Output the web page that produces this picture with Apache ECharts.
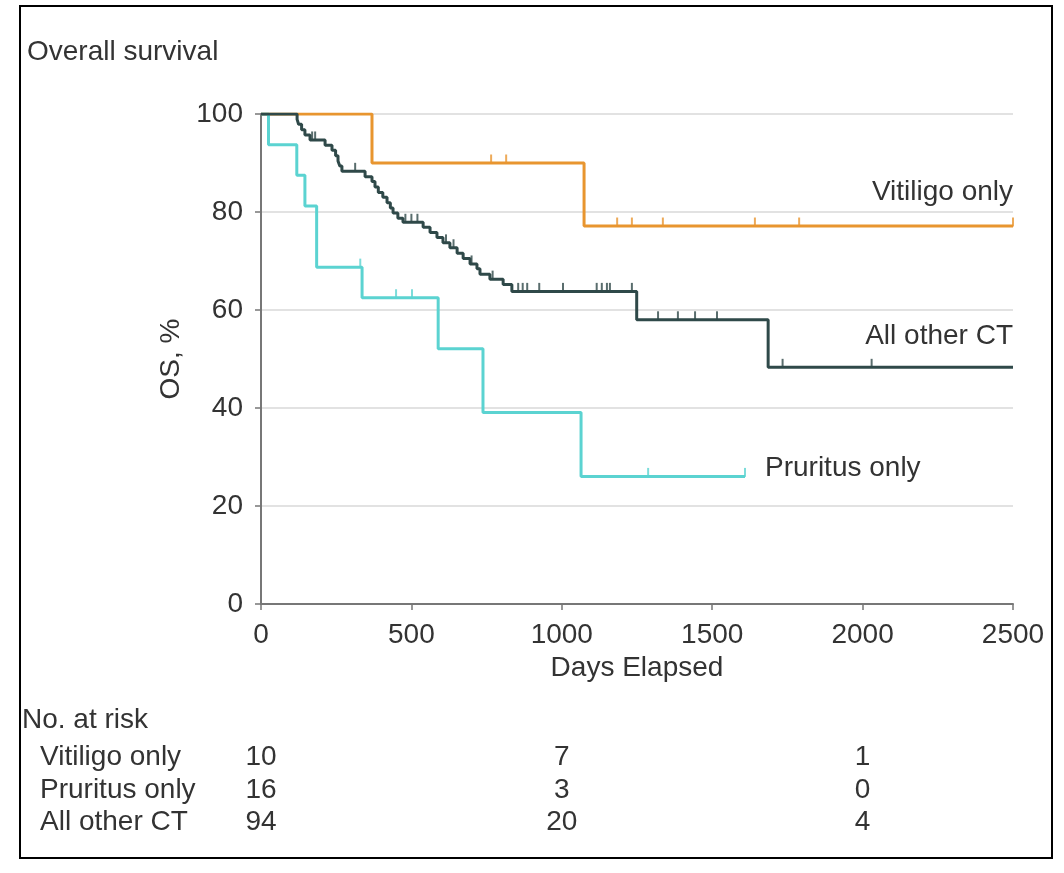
<!DOCTYPE html>
<html>
<head>
<meta charset="utf-8">
<script src="https://cdn.jsdelivr.net/npm/echarts@6/dist/echarts.min.js"></script>
<style>
html,body{margin:0;padding:0;background:#fff;}
#chart{width:1064px;height:873px;}
</style>
</head>
<body>
<div id="chart"></div>
<script>
// ---- Data ----
const xTicks = [0, 500, 1000, 1500, 2000, 2500];
const yTicks = [0, 20, 40, 60, 80, 100];

const vitTime = [0, 369, 1074, 2500];
const vitSurv = [100, 90, 77.14, 77.14];
const vitCensorTime = [765, 815, 1184, 1233, 1336, 1642, 1789, 2500];
const vitCensorSurv = [90, 90, 77.14, 77.14, 77.14, 77.14, 77.14, 77.14];

const pruTime = [0, 25, 119, 146, 185, 336, 589, 738, 1064, 1609];
const pruSurv = [100, 93.75, 87.5, 81.25, 68.75, 62.5, 52.08, 39.06, 26.04, 26.04];
const pruCensorTime = [330, 449, 502, 1287, 1609];
const pruCensorSurv = [68.75, 62.5, 62.5, 26.04, 26.04];

const othTime = [0, 120, 125, 135, 146, 163, 213, 236, 248, 256, 262, 269, 346, 369, 379, 390, 405, 419, 430, 439, 455, 472, 539, 562, 585, 605, 628, 652, 672, 695, 718, 728, 761, 805, 834, 1249, 1686, 2500];
const othSurv = [100, 98.9, 97.9, 96.8, 95.7, 94.7, 93.6, 92.6, 91.5, 90.4, 89.4, 88.3, 87.2, 86.2, 85.1, 84.0, 83.0, 81.9, 80.8, 79.8, 78.7, 77.9, 76.9, 75.8, 74.8, 73.7, 72.7, 71.6, 70.5, 69.4, 68.4, 67.3, 66.3, 65.2, 63.8, 58.0, 48.3, 48.3];
const othCensorTime = [170, 180, 313, 480, 500, 520, 615, 640, 700, 770, 855, 870, 885, 925, 1004, 1116, 1133, 1150, 1160, 1233, 1320, 1386, 1443, 1516, 1734, 2030];
const othCensorSurv = [94.7, 94.7, 88.3, 77.9, 77.9, 77.9, 73.7, 72.7, 69.4, 66.3, 63.8, 63.8, 63.8, 63.8, 63.8, 63.8, 63.8, 63.8, 63.8, 63.8, 58.0, 58.0, 58.0, 58.0, 48.3, 48.3];

const groupNames = ['Vitiligo only', 'Pruritus only', 'All other CT'];
const riskTimes = [0, 1000, 2000];
const riskVit = [10, 7, 1];
const riskPru = [16, 3, 0];
const riskOth = [94, 20, 4];

// ---- Styles ----
const FONT = '"Liberation Sans", Arial, sans-serif';
const FS = 28;
const TXT = '#333';
const cVit = '#E8952F', cPru = '#5BD3D1', cOth = '#2F4949';

const zip = (a, b) => a.map((v, i) => [v, b[i]]);

const chart = echarts.init(document.getElementById('chart'), null, {renderer: 'canvas'});

function lineSeries(name, t, s, color) {
  return {
    name, type: 'line', step: 'end', data: zip(t, s), symbol: 'none',
    lineStyle: {color, width: 3}, silent: true, animation: false, z: 3
  };
}
function censorSeries(name, t, s, color) {
  return {
    name: name + ' censored', type: 'scatter', data: zip(t, s),
    symbol: 'rect', symbolSize: [2, 9], symbolOffset: [0, -4],
    itemStyle: {color}, silent: true, animation: false, z: 4
  };
}

const option = {
  backgroundColor: '#fff',
  animation: false,
  grid: {left: 261, right: 51, top: 114, bottom: 269, containLabel: false},
  xAxis: {
    type: 'value', min: 0, max: 2500, interval: 500,
    name: 'Days Elapsed', nameLocation: 'middle', nameGap: 41,
    nameTextStyle: {fontFamily: FONT, fontSize: FS, color: TXT},
    axisLine: {show: true, lineStyle: {color: '#777', width: 2}},
    axisTick: {show: true, length: 6, lineStyle: {color: '#777', width: 1.5}},
    axisLabel: {fontFamily: FONT, fontSize: FS, color: TXT, margin: 17, formatter: v => String(v)},
    splitLine: {show: false}
  },
  yAxis: {
    type: 'value', min: 0, max: 100, interval: 20,
    name: 'OS, %', nameLocation: 'middle', nameGap: 75,
    nameTextStyle: {fontFamily: FONT, fontSize: FS, color: TXT},
    axisLine: {show: true, lineStyle: {color: '#777', width: 2}},
    axisTick: {show: true, length: 6, lineStyle: {color: '#777', width: 1.5}},
    axisLabel: {fontFamily: FONT, fontSize: FS, color: TXT, margin: 18, formatter: v => String(v)},
    splitLine: {show: true, lineStyle: {color: '#d8d8d8', width: 1.5}}
  },
  series: [
    lineSeries('Vitiligo only', vitTime, vitSurv, cVit),
    lineSeries('Pruritus only', pruTime, pruSurv, cPru),
    lineSeries('All other CT', othTime, othSurv, cOth),
    censorSeries('Vitiligo only', vitCensorTime, vitCensorSurv, cVit),
    censorSeries('Pruritus only', pruCensorTime, pruCensorSurv, cPru),
    censorSeries('All other CT', othCensorTime, othCensorSurv, cOth)
  ]
};
chart.setOption(option);

// Annotations and number-at-risk table
const px = (x, y) => chart.convertToPixel({gridIndex: 0}, [x, y]);
const font = FS + 'px ' + FONT;
const g = [];
g.push({type: 'rect', shape: {x: 20, y: 6, width: 1032, height: 852},
  style: {fill: null, stroke: '#000', lineWidth: 2}, z: 0});
g.push({type: 'text', x: 27, y: 52, style: {text: 'Overall survival', font, fill: TXT, textVerticalAlign: 'middle'}});

const endX = px(2500, 0)[0];
g.push({type: 'text', x: endX, y: px(0, 77.14)[1] - 34, style: {text: groupNames[0], font, fill: TXT, textAlign: 'right', textVerticalAlign: 'middle'}});
g.push({type: 'text', x: endX, y: px(0, 48.3)[1] - 31, style: {text: groupNames[2], font, fill: TXT, textAlign: 'right', textVerticalAlign: 'middle'}});
g.push({type: 'text', x: px(1609, 0)[0] + 20, y: px(0, 26.04)[1] - 8, style: {text: groupNames[1], font, fill: TXT, textAlign: 'left', textVerticalAlign: 'middle'}});

g.push({type: 'text', x: 22, y: 720, style: {text: 'No. at risk', font, fill: TXT, textVerticalAlign: 'middle'}});
const rows = [riskVit, riskPru, riskOth];
const rowY = [757, 790, 822];
rows.forEach((r, i) => {
  g.push({type: 'text', x: 40, y: rowY[i], style: {text: groupNames[i], font, fill: TXT, textVerticalAlign: 'middle'}});
  r.forEach((v, j) => {
    g.push({type: 'text', x: px(riskTimes[j], 0)[0], y: rowY[i], style: {text: String(v), font, fill: TXT, textAlign: 'center', textVerticalAlign: 'middle'}});
  });
});
chart.setOption({graphic: g});
</script>
</body>
</html>
